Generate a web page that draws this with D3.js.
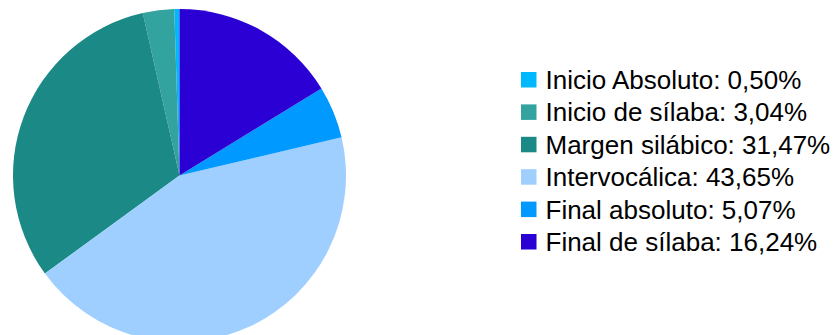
<!DOCTYPE html>
<html><head><meta charset="utf-8">
<script src="https://cdn.jsdelivr.net/npm/d3@7"></script>
<style>body{margin:0;background:#fff}svg{display:block}</style>
</head><body>
<svg id="chart" width="837" height="335"></svg>
<script>
const categories = ["Inicio Absoluto", "Inicio de sílaba", "Margen silábico", "Intervocálica", "Final absoluto", "Final de sílaba"];
const values = [0.50, 3.04, 31.47, 43.65, 5.07, 16.24];
const valueLabels = ["0,50%", "3,04%", "31,47%", "43,65%", "5,07%", "16,24%"];
const colors = ["#00b8ff", "#33a3a0", "#1b8985", "#9fcfff", "#0099ff", "#2a00d5"];

const svg = d3.select("#chart");
const cx = 179.5, cy = 175.5, r = 166.5;
const data = categories.map((c, i) => ({name: c, value: values[i], label: valueLabels[i], color: colors[i]}));
const pie = d3.pie().value(d => d.value).sort(null).startAngle(0).endAngle(-2 * Math.PI);
const arc = d3.arc().innerRadius(0).outerRadius(r);
svg.append("g").attr("transform", `translate(${cx},${cy})`)
  .selectAll("path").data(pie(data)).join("path")
  .attr("d", arc).attr("fill", d => d.data.color);

const color = d3.scaleOrdinal().domain(categories).range(colors);
const y = d3.scalePoint().domain(categories).range([89, 251]);
const lg = svg.append("g");
const rows = lg.selectAll("g").data(data).join("g")
  .attr("transform", d => `translate(520,${y(d.name)})`);
rows.append("rect").attr("x", 1).attr("y", -17).attr("width", 15.5).attr("height", 15.5)
  .attr("fill", d => color(d.name));
rows.append("text").attr("x", 25.5).attr("y", 0)
  .attr("font-family", "Liberation Sans, Arial, sans-serif").attr("font-size", 26).attr("fill", "#000")
  .text(d => `${d.name}: ${d.label}`);
</script>
</body></html>
